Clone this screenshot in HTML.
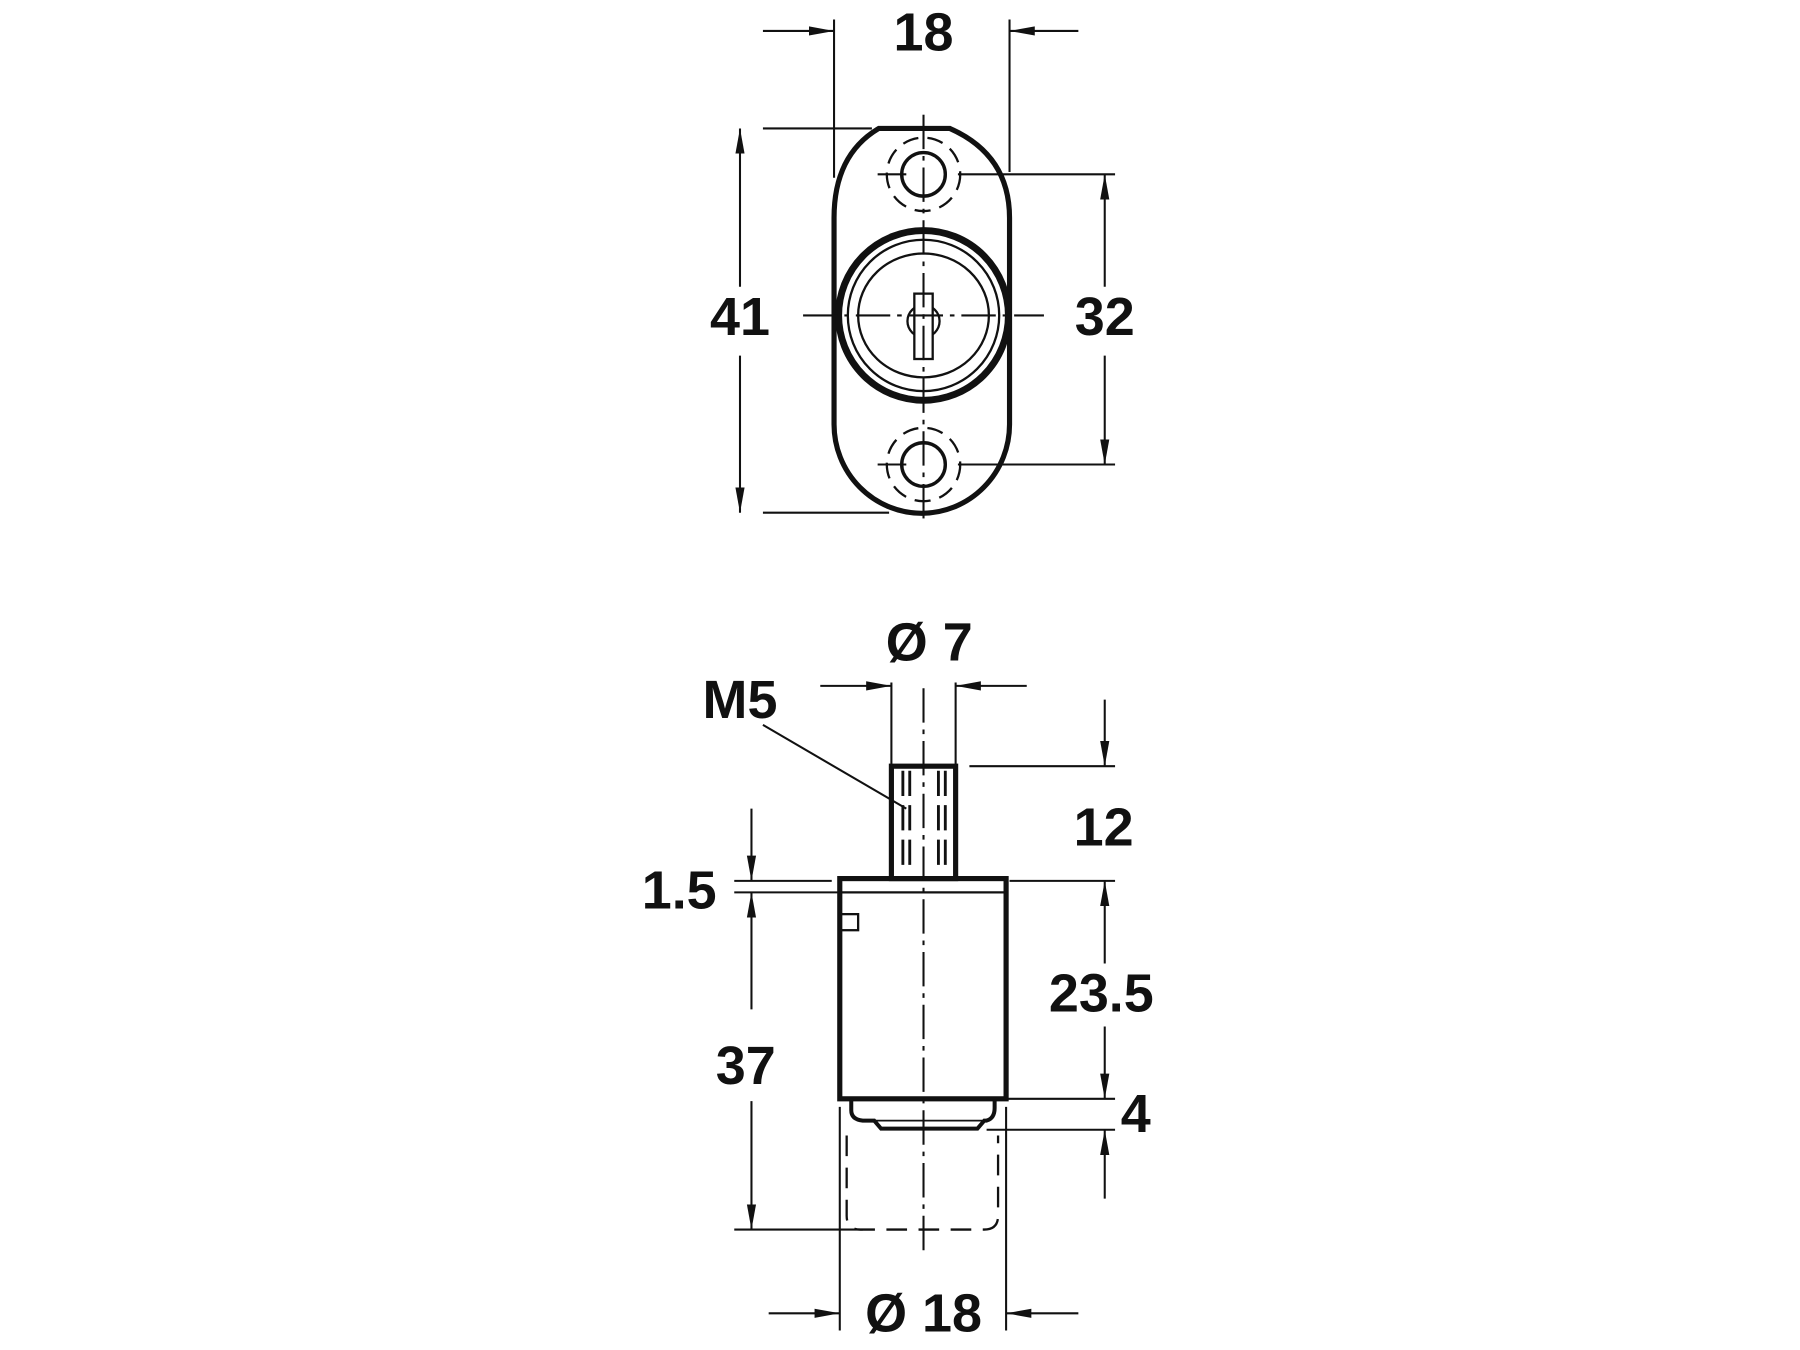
<!DOCTYPE html>
<html><head><meta charset="utf-8"><style>
html,body{margin:0;padding:0;background:#fff}
svg{display:block}
text{font-family:"Liberation Sans",Arial,sans-serif;font-weight:bold;font-size:47px;fill:#111;text-anchor:middle}
</style></head><body>
<svg width="1800" height="1350" viewBox="0 0 1569 1177" xmlns="http://www.w3.org/2000/svg">
<defs>
<marker id="a" viewBox="0 0 22 10" refX="22" refY="5" markerWidth="22" markerHeight="10" markerUnits="userSpaceOnUse" orient="auto"><path d="M0,1 L22,5 L0,9 z" fill="#111"/></marker>
</defs>
<g stroke="#111" fill="none">
<path d="M766,112 L828,112 Q880,135 880,190 L880,370 A76,77 0 0 1 727,370 L727,190 Q727,135 766,112 Z" stroke-width="4.5"/>
<circle cx="805" cy="152" r="19" stroke-width="3"/>
<circle cx="805" cy="405" r="19" stroke-width="3"/>
<circle cx="805" cy="152" r="32" stroke-width="2" stroke-dasharray="14 8"/>
<circle cx="805" cy="405" r="32" stroke-width="2" stroke-dasharray="14 8"/>
<circle cx="805" cy="275" r="74" stroke-width="6"/>
<circle cx="805" cy="275" r="66" stroke-width="2"/>
<ellipse cx="805" cy="275" rx="57" ry="54" stroke-width="2"/>
<circle cx="805" cy="280" r="14" stroke-width="2"/>
<rect x="797" y="256" width="16" height="57" fill="#fff" stroke-width="2"/>
<g stroke-width="1.8" stroke-dasharray="30 6 4 6">
<line x1="700" y1="275" x2="910" y2="275"/>
<line x1="805" y1="100" x2="805" y2="455"/>
</g>
<line x1="765" y1="152" x2="790" y2="152" stroke-width="1.8"/>
<line x1="765" y1="405" x2="790" y2="405" stroke-width="1.8"/>
<g stroke-width="1.8">
<line x1="727" y1="17" x2="727" y2="155"/>
<line x1="880" y1="17" x2="880" y2="150"/>
<line x1="665" y1="27" x2="727" y2="27" marker-end="url(#a)"/>
<line x1="940" y1="27" x2="880" y2="27" marker-end="url(#a)"/>
<line x1="665" y1="112" x2="760" y2="112"/>
<line x1="665" y1="447" x2="775" y2="447"/>
<line x1="645" y1="250" x2="645" y2="112" marker-end="url(#a)"/>
<line x1="645" y1="310" x2="645" y2="447" marker-end="url(#a)"/>
<line x1="835" y1="152" x2="972" y2="152"/>
<line x1="835" y1="405" x2="972" y2="405"/>
<line x1="963" y1="250" x2="963" y2="152" marker-end="url(#a)"/>
<line x1="963" y1="310" x2="963" y2="405" marker-end="url(#a)"/>
</g>
<rect x="777" y="668" width="56" height="98" stroke-width="4.5"/>
<g stroke-width="2.5" stroke-dasharray="22 8">
<line x1="787" y1="672" x2="787" y2="762"/>
<line x1="793" y1="672" x2="793" y2="762"/>
<line x1="818" y1="672" x2="818" y2="762"/>
<line x1="824" y1="672" x2="824" y2="762"/>
</g>
<rect x="732" y="766" width="145" height="192" stroke-width="4.5"/>
<line x1="732" y1="778" x2="877" y2="778" stroke-width="2"/>
<rect x="732" y="797" width="16" height="14" stroke-width="2"/>
<path d="M742,958 L742,968 Q742,976 752,977 L762,977 L768,984 L852,984 L858,977 L860,977 Q867,975 867,966 L867,958" stroke-width="3.5"/>
<line x1="762" y1="977" x2="858" y2="977" stroke-width="1.5"/>
<path d="M738,990 L738,1060 Q738,1072 750,1072 L858,1072 Q870,1072 870,1060 L870,990" stroke-width="2" stroke-dasharray="18 10"/>
<line x1="805" y1="600" x2="805" y2="1090" stroke-width="1.8" stroke-dasharray="30 6 4 6"/>
<g stroke-width="1.8">
<line x1="777" y1="595" x2="777" y2="668"/>
<line x1="833" y1="595" x2="833" y2="668"/>
<line x1="715" y1="598" x2="777" y2="598" marker-end="url(#a)"/>
<line x1="895" y1="598" x2="833" y2="598" marker-end="url(#a)"/>
<line x1="665" y1="632" x2="790" y2="705"/>
<line x1="845" y1="668" x2="972" y2="668"/>
<line x1="963" y1="610" x2="963" y2="668" marker-end="url(#a)"/>
<line x1="880" y1="768" x2="972" y2="768"/>
<line x1="963" y1="840" x2="963" y2="768" marker-end="url(#a)"/>
<line x1="963" y1="895" x2="963" y2="958" marker-end="url(#a)"/>
<line x1="860" y1="958" x2="972" y2="958"/>
<line x1="860" y1="985" x2="972" y2="985"/>
<line x1="963" y1="1045" x2="963" y2="985" marker-end="url(#a)"/>
<line x1="640" y1="768" x2="725" y2="768"/>
<line x1="640" y1="778" x2="730" y2="778"/>
<line x1="655" y1="705" x2="655" y2="768" marker-end="url(#a)"/>
<line x1="655" y1="880" x2="655" y2="778" marker-end="url(#a)"/>
<line x1="655" y1="960" x2="655" y2="1072" marker-end="url(#a)"/>
<line x1="640" y1="1072" x2="752" y2="1072"/>
<line x1="732" y1="965" x2="732" y2="1160"/>
<line x1="877" y1="965" x2="877" y2="1160"/>
<line x1="670" y1="1145" x2="732" y2="1145" marker-end="url(#a)"/>
<line x1="940" y1="1145" x2="877" y2="1145" marker-end="url(#a)"/>
</g>
</g>
<text x="805" y="44">18</text>
<text x="645" y="292">41</text>
<text x="963" y="292">32</text>
<text x="810" y="576">Ø 7</text>
<text x="645" y="626">M5</text>
<text x="962" y="737">12</text>
<text x="592" y="792">1.5</text>
<text x="960" y="882">23.5</text>
<text x="650" y="945">37</text>
<text x="990" y="987">4</text>
<text x="805" y="1161">Ø 18</text>
</svg>
</body></html>
